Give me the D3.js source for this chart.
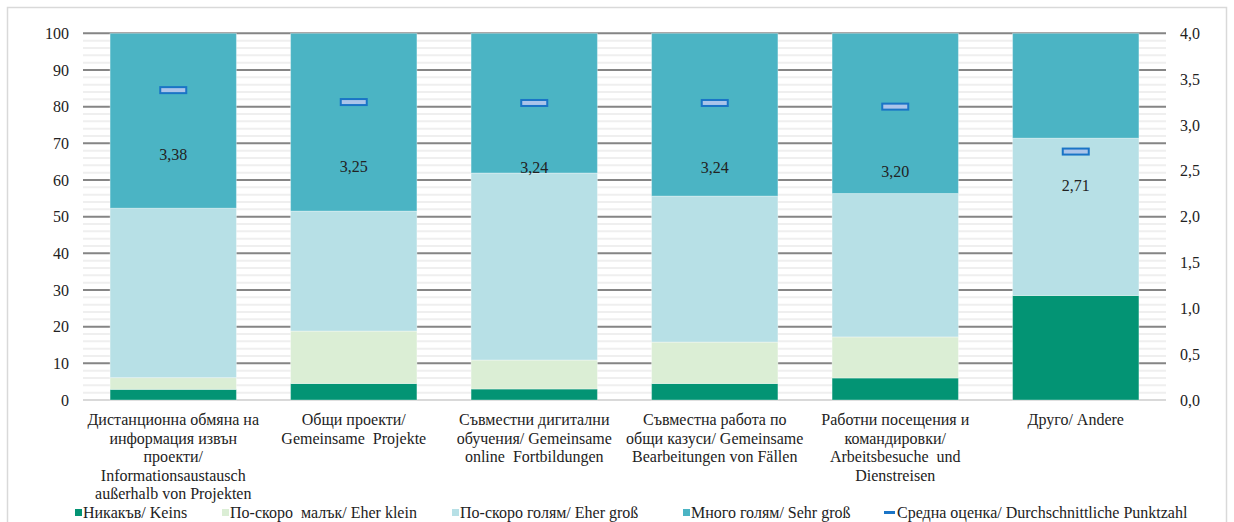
<!DOCTYPE html>
<html>
<head>
<meta charset="utf-8">
<script src="https://cdn.jsdelivr.net/npm/d3@7"></script>
<style>
  body { margin: 0; background: #fff; }
  svg text { font-family: "Liberation Serif", "Times New Roman", "DejaVu Serif", serif; fill: #222; white-space: pre; }
</style>
</head>
<body>
<svg id="chart" width="1234" height="522"></svg>
<script>
// categories (each label split into lines as on the original)
var categories = [
  ["Дистанционна обмяна на", "информация извън", "проекти/", "Informationsaustausch", "außerhalb von Projekten"],
  ["Общи проекти/", "Gemeinsame  Projekte"],
  ["Съвместни дигитални", "обучения/ Gemeinsame", "online  Fortbildungen"],
  ["Съвместна работа по", "общи казуси/ Gemeinsame", "Bearbeitungen von Fällen"],
  ["Работни посещения и", "командировки/", "Arbeitsbesuche  und", "Dienstreisen"],
  ["Друго/ Andere"]
];
var seriesNames = ["Никакъв/ Keins", "По-скоро  малък/ Eher klein", "По-скоро голям/ Eher groß", "Много голям/ Sehr groß"];
var meanName = "Средна оценка/ Durchschnittliche Punktzahl";

// percentages
var keins     = [2.9, 4.5, 3.0, 4.5, 6.0, 28.5];
var eherKlein = [3.2, 14.3, 7.9, 11.3, 11.2, 0];
var eherGross = [46.2, 32.7, 51.0, 39.8, 39.1, 42.9];
var sehrGross = [47.7, 48.5, 38.1, 44.4, 43.7, 28.6];
// average score (right axis 0..4)
var meanScore = [3.38, 3.25, 3.24, 3.24, 3.20, 2.71];

var leftTicks = [0, 10, 20, 30, 40, 50, 60, 70, 80, 90, 100];
var rightTicks = [0, 0.5, 1, 1.5, 2, 2.5, 3, 3.5, 4];

var colors = ["#039474", "#dbeed5", "#b7e0e6", "#4bb4c4"];
var FONT = '"Liberation Serif", "Times New Roman", "DejaVu Serif", serif';
var FS = 16;

var svg = d3.select("#chart");
var plotL = 83, plotR = 1166, plotT = 33.3, plotB = 400;

// outer frame
svg.append("rect").attr("x", 7.5).attr("y", 7.5).attr("width", 1219).attr("height", 530)
  .attr("fill", "none").attr("stroke", "#d9d9d9").attr("stroke-width", 1.5);

var x = d3.scaleBand().domain(d3.range(categories.length)).range([plotL, plotR])
  .paddingInner(0.3).paddingOuter(0.15);
var y = d3.scaleLinear().domain([0, 100]).range([plotB, plotT]);
var y2 = d3.scaleLinear().domain([0, 4]).range([plotB, plotT]);

// minor gridlines every 2
svg.append("g").selectAll("line").data(d3.range(2, 100, 2).filter(function(v){ return v % 10 != 0; }))
  .join("line")
  .attr("x1", plotL).attr("x2", plotR)
  .attr("y1", function(d){ return y(d); }).attr("y2", function(d){ return y(d); })
  .attr("stroke", "#efefef").attr("stroke-width", 2);

// major gridlines
svg.append("g").selectAll("line").data(leftTicks.slice(1))
  .join("line")
  .attr("x1", plotL).attr("x2", plotR)
  .attr("y1", function(d){ return y(d); }).attr("y2", function(d){ return y(d); })
  .attr("stroke", "#858585").attr("stroke-width", 2);

svg.append("line").attr("x1", plotL).attr("x2", plotR).attr("y1", plotB).attr("y2", plotB)
  .attr("stroke", "#d9d9d9").attr("stroke-width", 2);

// stacked bars
var rows = categories.map(function(c, i){
  return { i: i, keins: keins[i], klein: eherKlein[i], gross: eherGross[i], sehr: sehrGross[i] };
});
var stack = d3.stack().keys(["keins", "klein", "gross", "sehr"])(rows);

svg.append("g").selectAll("g").data(stack).join("g")
  .attr("fill", function(d, k){ return colors[k]; })
  .selectAll("rect").data(function(d){ return d; }).join("rect")
  .attr("x", function(d){ return x(d.data.i); })
  .attr("width", x.bandwidth())
  .attr("y", function(d){ return y(d[1]); })
  .attr("height", function(d){ return y(d[0]) - y(d[1]); })
  .attr("stroke", "rgba(255,255,255,0.35)").attr("stroke-width", 1);

// mean markers and labels
var labelGap = [65, 65, 65, 65, 65, 34];
var mk = svg.append("g");
mk.selectAll("rect").data(meanScore).join("rect")
  .attr("x", function(d, i){ return x(i) + x.bandwidth() / 2 - 13; })
  .attr("y", function(d){ return y2(d) - 3; })
  .attr("width", 26).attr("height", 6)
  .attr("fill", "#abc4ea").attr("stroke", "#1a74c6").attr("stroke-width", 2);
mk.selectAll("text").data(meanScore).join("text")
  .attr("x", function(d, i){ return x(i) + x.bandwidth() / 2; })
  .attr("y", function(d, i){ return y2(d) + labelGap[i] + 5; })
  .attr("text-anchor", "middle")
  .text(function(d){ return d.toFixed(2).replace(".", ","); });

// left axis
var ax = d3.axisLeft(y).tickValues(leftTicks).tickSize(0).tickPadding(14);
var gl = svg.append("g").attr("transform", "translate(" + plotL + ",0)").call(ax);
gl.select(".domain").remove();

// right axis
var ax2 = d3.axisRight(y2).tickValues(rightTicks).tickSize(0).tickPadding(14)
  .tickFormat(function(d){ return d.toFixed(1).replace(".", ","); });
var gr = svg.append("g").attr("transform", "translate(" + plotR + ",0)").call(ax2);
gr.select(".domain").remove();

// category labels
var cl = svg.append("g").selectAll("text").data(categories).join("text")
  .attr("text-anchor", "middle");
cl.selectAll("tspan").data(function(d, i){ return d.map(function(s){ return { s: s, i: i }; }); })
  .join("tspan")
  .attr("x", function(d){ return x(d.i) + x.bandwidth() / 2; })
  .attr("y", function(d, j){ return 425 + j * 18.5; })
  .text(function(d){ return d.s; });

// legend
var legX = [75, 222, 452, 683];
var lg = svg.append("g");
seriesNames.forEach(function(n, k){
  lg.append("rect").attr("x", legX[k]).attr("y", 509).attr("width", 7).attr("height", 7).attr("fill", colors[k]);
  lg.append("text").attr("x", legX[k] + 8).attr("y", 518).text(n);
});
lg.append("line").attr("x1", 884).attr("x2", 895).attr("y1", 512.5).attr("y2", 512.5)
  .attr("stroke", "#1a74c6").attr("stroke-width", 3);
lg.append("text").attr("x", 897).attr("y", 518).text(meanName);

// one font for every text
svg.selectAll("text").attr("font-family", FONT).attr("font-size", FS).attr("fill", "#222");
</script>
</body>
</html>
